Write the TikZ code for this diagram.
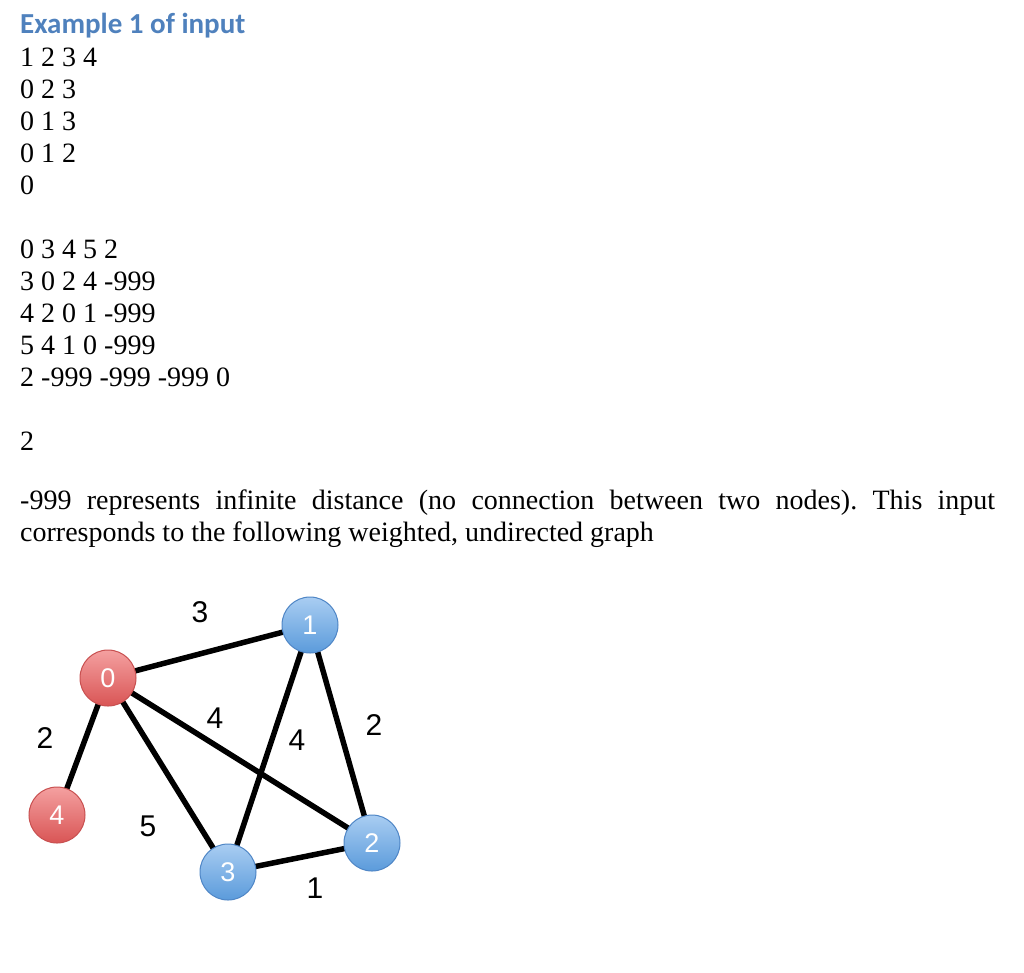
\documentclass[tikz,border=0pt]{standalone}
\usepackage{fontspec}
\usetikzlibrary{backgrounds}
\setmainfont{Liberation Serif}
\newfontfamily\headfont{Carlito}
\newfontfamily\arialfont{Liberation Sans}
\definecolor{headblue}{HTML}{4F81BD}
\definecolor{redtop}{HTML}{F4A0A0}
\definecolor{redbot}{HTML}{D95555}
\definecolor{redline}{HTML}{C85050}
\definecolor{bluetop}{HTML}{A9CDF2}
\definecolor{bluebot}{HTML}{5B9BDB}
\definecolor{blueline}{HTML}{4F86C6}
\begin{document}
\begin{tikzpicture}[x=1pt,y=-1pt,
  txt/.style={anchor=base west,inner sep=0pt,font=\fontsize{28}{32}\selectfont},
  vred/.style={circle,minimum size=56pt,inner sep=0pt,top color=redtop,bottom color=redbot,draw=redline,line width=1pt,text=white,font=\arialfont\fontsize{27}{27}\selectfont},
  vblue/.style={vred,top color=bluetop,bottom color=bluebot,draw=blueline},
  edge/.style={line width=5.5pt},
  wlab/.style={inner sep=0pt,font=\arialfont\fontsize{30}{30}\selectfont}]
\useasboundingbox (0,0) rectangle (1024,972);
\node[txt,font=\headfont\bfseries\fontsize{29}{32}\selectfont,text=headblue] (h) at (20,33) {Example 1 of input};
\node[txt] (l1) at (20,66) {1 2 3 4};
\node[txt] (l2) at (20,98) {0 2 3};
\node[txt] (l3) at (20,130) {0 1 3};
\node[txt] (l4) at (20,162) {0 1 2};
\node[txt] (l5) at (20,194) {0};
\node[txt] (m1) at (20,258) {0 3 4 5 2};
\node[txt] (m2) at (20,290) {3 0 2 4 -999};
\node[txt] (m3) at (20,322) {4 2 0 1 -999};
\node[txt] (m4) at (20,354) {5 4 1 0 -999};
\node[txt] (m5) at (20,386) {2 -999 -999 -999 0};
\node[txt] (s) at (20,450) {2};
\node[txt,anchor=north west,text width=975pt,align=justify] (p) at (20,490) {-999 represents infinite distance (no connection between two nodes).\ This input\linebreak corresponds to the following weighted, undirected graph};
\node[vred] (n0) at (108,678) {0};
\node[vblue] (n1) at (310,625) {1};
\node[vblue] (n2) at (372,843) {2};
\node[vblue] (n3) at (228,872) {3};
\node[vred] (n4) at (57,815) {4};
\begin{scope}[on background layer]
\fill[white] (0,0) rectangle (1024,972);
\draw[edge] (n0.center) -- (n1.center);
\draw[edge] (n0.center) -- (n4.center);
\draw[edge] (n0.center) -- (n2.center);
\draw[edge] (n0.center) -- (n3.center);
\draw[edge] (n1.center) -- (n3.center);
\draw[edge] (n1.center) -- (n2.center);
\draw[edge] (n3.center) -- (n2.center);
\end{scope}
\node[wlab] (w01) at (200,612) {3};
\node[wlab] (w04) at (45,738) {2};
\node[wlab] (w02) at (215,718) {4};
\node[wlab] (w13) at (297,740) {4};
\node[wlab] (w12) at (374,725) {2};
\node[wlab] (w03) at (148,826) {5};
\node[wlab] (w23) at (315,888) {1};
\end{tikzpicture}
\end{document}
